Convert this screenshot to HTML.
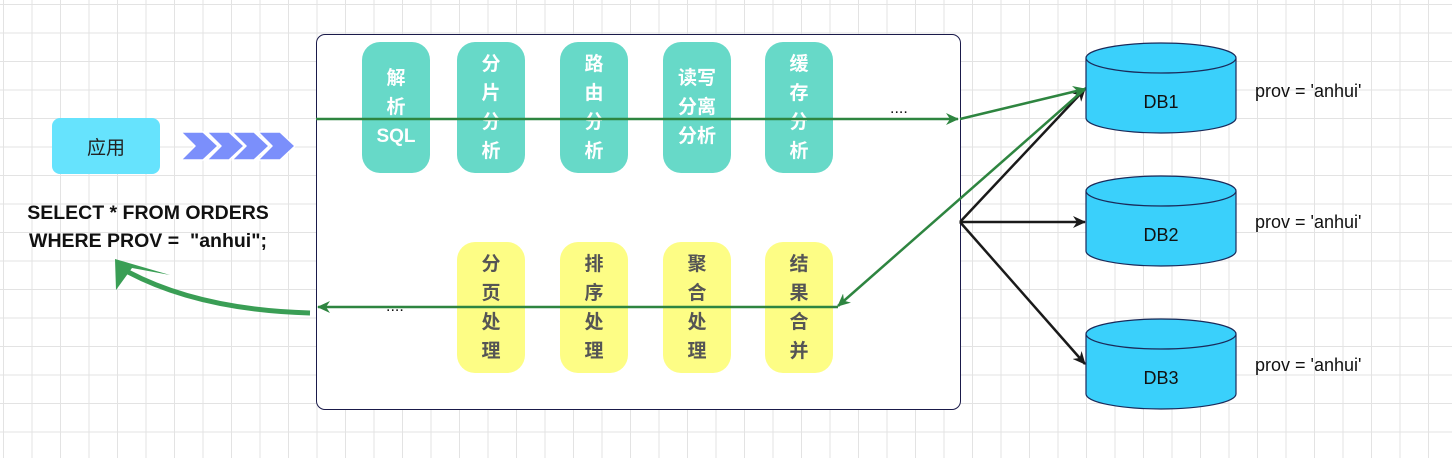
<!DOCTYPE html>
<html><head><meta charset="utf-8"><style>
html,body{margin:0;padding:0;}
body{width:1452px;height:458px;overflow:hidden;background:#fff;
background-image:linear-gradient(#e3e3e3 1px,transparent 1px),linear-gradient(90deg,#e3e3e3 1px,transparent 1px);
background-size:28.5px 28.5px;background-position:3px 4px;position:relative;
font-family:"Liberation Sans","Noto Sans CJK SC",sans-serif;}
.b{position:absolute;width:68px;height:131px;border-radius:18px;display:flex;align-items:center;justify-content:center;text-align:center;font-weight:bold;font-size:19px;line-height:29px;}
.t{background:#67d9c8;color:#fff;top:42px;}
.y{background:#fdfd85;color:#555;top:242px;}
.lbl{position:absolute;font-size:18px;color:#111;}
</style></head><body>
<div style="position:absolute;left:316px;top:34px;width:643px;height:374px;border:1px solid #1a1a4a;border-radius:9px;background:#fff;"></div>
<div style="position:absolute;left:52px;top:118px;width:108px;height:56px;background:#66e3fd;border-radius:8px;display:flex;align-items:center;justify-content:center;font-size:19px;color:#222;">应用</div>
<div style="position:absolute;left:0;top:199px;width:296px;text-align:center;font-weight:bold;font-size:19.5px;line-height:28px;color:#111;">SELECT * FROM ORDERS<br>WHERE PROV =&nbsp; "anhui";</div>
<div class="b t" style="left:362px">解<br>析<br>SQL</div>
<div class="b t" style="left:457px">分<br>片<br>分<br>析</div>
<div class="b t" style="left:560px">路<br>由<br>分<br>析</div>
<div class="b t" style="left:663px">读写<br>分离<br>分析</div>
<div class="b t" style="left:765px">缓<br>存<br>分<br>析</div>
<div class="b y" style="left:457px">分<br>页<br>处<br>理</div>
<div class="b y" style="left:560px">排<br>序<br>处<br>理</div>
<div class="b y" style="left:663px">聚<br>合<br>处<br>理</div>
<div class="b y" style="left:765px">结<br>果<br>合<br>并</div>
<div class="lbl" style="left:890px;top:100px;font-size:16px">....</div>
<div class="lbl" style="left:386px;top:298px;font-size:16px">....</div>
<svg width="1452" height="458" style="position:absolute;left:0;top:0">
<defs>
<marker id="g" markerWidth="14" markerHeight="12" refX="12" refY="6" orient="auto" markerUnits="userSpaceOnUse"><path d="M0,0 L13,6 L0,12 L4,6z" fill="#2e8540"/></marker>
<marker id="k" markerWidth="14" markerHeight="12" refX="12" refY="6" orient="auto" markerUnits="userSpaceOnUse"><path d="M0,0 L13,6 L0,12 L4,6z" fill="#1a1a1a"/></marker>
</defs>
<g fill="#7b8ffb" stroke="#fff" stroke-width="1.5" stroke-linejoin="round">
<path d="M181,132 L203,132 L218,146 L203,160 L181,160 L195,146z"/>
<path d="M207,132 L229,132 L244,146 L229,160 L207,160 L221,146z"/>
<path d="M232,132 L254,132 L269,146 L254,160 L232,160 L246,146z"/>
<path d="M258,132 L280,132 L295,146 L280,160 L258,160 L272,146z"/>
</g>
<g stroke="#1a1a1a" stroke-width="2.5" fill="none">
<line x1="960" y1="222" x2="1085" y2="89" marker-end="url(#k)"/>
<line x1="960" y1="222" x2="1085" y2="222" marker-end="url(#k)"/>
<line x1="960" y1="222" x2="1085" y2="364" marker-end="url(#k)"/>
</g>
<g stroke="#2e8540" stroke-width="2.5" fill="none">
<line x1="316" y1="119" x2="958" y2="119" marker-end="url(#g)"/>
<line x1="960" y1="119" x2="1085" y2="89" marker-end="url(#g)"/>
<line x1="1086" y1="88" x2="838" y2="306" marker-end="url(#g)"/>
<line x1="838" y1="307" x2="318" y2="307" marker-end="url(#g)"/>
</g>
<path d="M310,313 Q200,310 128,272" stroke="#3a9e55" stroke-width="5" fill="none"/>
<path d="M115,259 L170,275 L132,268 L116,290z" fill="#3a9e55"/>
<g stroke="#1a2a5a" stroke-width="1.2" fill="#3ad0fb">
<path d="M1086,58 L1086,118 A75,15 0 0 0 1236,118 L1236,58"/>
<ellipse cx="1161" cy="58" rx="75" ry="15"/>
<path d="M1086,191 L1086,251 A75,15 0 0 0 1236,251 L1236,191"/>
<ellipse cx="1161" cy="191" rx="75" ry="15"/>
<path d="M1086,334 L1086,394 A75,15 0 0 0 1236,394 L1236,334"/>
<ellipse cx="1161" cy="334" rx="75" ry="15"/>
</g>
<g font-family="Liberation Sans,sans-serif" font-size="18" fill="#111">
<text x="1161" y="108" text-anchor="middle">DB1</text>
<text x="1161" y="241" text-anchor="middle">DB2</text>
<text x="1161" y="384" text-anchor="middle">DB3</text>
<text x="1255" y="97">prov = 'anhui'</text>
<text x="1255" y="228">prov = 'anhui'</text>
<text x="1255" y="371">prov = 'anhui'</text>
</g>
</svg>
</body></html>
